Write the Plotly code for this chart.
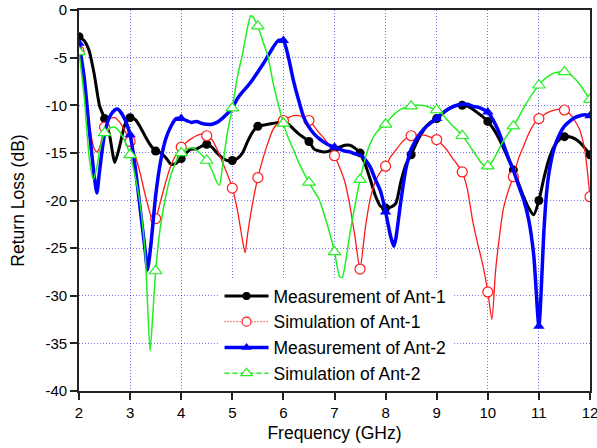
import plotly.graph_objects as go
import numpy as np

# ---------------- data ----------------
# Measurement of Ant-1
meas1_x = [2.0, 2.1, 2.2, 2.3, 2.4, 2.5, 2.6, 2.7, 2.8, 2.9, 3.0, 3.1, 3.2, 3.3, 3.4, 3.5,
           3.6, 3.7, 3.8, 3.9, 4.0, 4.1, 4.2, 4.3, 4.4, 4.5, 4.6, 4.7, 4.8, 4.9, 5.0, 5.1,
           5.2, 5.3, 5.4, 5.5, 5.6, 5.7, 5.8, 5.9, 6.0, 6.1, 6.2, 6.3, 6.4, 6.5, 6.6, 6.7,
           6.8, 6.9, 7.0, 7.1, 7.2, 7.3, 7.4, 7.5, 7.6, 7.7, 7.8, 7.9, 8.0, 8.1, 8.2, 8.3,
           8.4, 8.5, 8.6, 8.7, 8.8, 8.9, 9.0, 9.1, 9.2, 9.3, 9.4, 9.5, 9.6, 9.7, 9.8, 9.9,
           10.0, 10.1, 10.2, 10.3, 10.4, 10.5, 10.6, 10.7, 10.8, 10.9, 11.0, 11.1, 11.2,
           11.3, 11.4, 11.5, 11.6, 11.7, 11.8, 11.9, 12.0]
meas1_y = [-2.8, -3.2, -4.3, -6.8, -10.0, -11.4, -13.2, -16.0, -14.2, -12.0, -11.3, -11.5,
           -12.3, -13.3, -14.2, -14.8, -15.0, -15.5, -16.2, -16.1, -15.6, -15.0, -14.6,
           -14.6, -14.3, -14.1, -14.4, -15.0, -15.5, -15.8, -15.8, -15.6, -15.0, -13.8,
           -12.8, -12.2, -12.1, -12.0, -11.9, -11.8, -11.75, -12.0, -12.5, -13.0, -13.4,
           -13.8, -14.6, -14.8, -14.9, -14.8, -14.6, -14.4, -14.2, -14.2, -14.5, -15.0,
           -16.2, -17.8, -19.5, -20.6, -20.8, -20.7, -20.3, -18.0, -16.2, -15.2, -14.0,
           -13.0, -12.2, -11.7, -11.4, -10.9, -10.5, -10.2, -10.0, -10.0, -10.1, -10.4,
           -10.8, -11.2, -11.7, -12.4, -13.3, -14.4, -15.6, -16.8, -18.2, -19.6, -20.8,
           -21.5, -20.0, -17.6, -15.6, -14.3, -13.6, -13.3, -13.3, -13.5, -13.9, -14.5,
           -15.2]

# Simulation of Ant-1
sim1_x = [2.0, 2.1, 2.2, 2.3, 2.35, 2.4, 2.5, 2.6, 2.7, 2.8, 2.9, 3.0, 3.1, 3.2, 3.3, 3.4,
          3.45, 3.5, 3.6, 3.7, 3.8, 3.9, 4.0, 4.1, 4.2, 4.3, 4.4, 4.5, 4.6, 4.7, 4.8, 4.9,
          5.0, 5.1, 5.2, 5.25, 5.3, 5.4, 5.5, 5.6, 5.7, 5.8, 5.9, 6.0, 6.1, 6.2, 6.3, 6.4,
          6.5, 6.6, 6.7, 6.8, 6.9, 7.0, 7.1, 7.2, 7.3, 7.4, 7.5, 7.6, 7.7, 7.8, 7.9, 8.0,
          8.1, 8.2, 8.3, 8.4, 8.5, 8.6, 8.7, 8.8, 8.9, 9.0, 9.1, 9.2, 9.3, 9.4, 9.5, 9.6,
          9.7, 9.8, 9.9, 10.0, 10.08, 10.15, 10.2, 10.3, 10.4, 10.5, 10.6, 10.7, 10.8, 10.9,
          11.0, 11.1, 11.2, 11.3, 11.4, 11.5, 11.6, 11.7, 11.8, 11.9, 12.0]
sim1_y = [-4.3, -7.5, -12.0, -14.6, -14.9, -14.5, -12.3, -11.4, -11.3, -11.8, -12.7, -13.8,
          -15.3, -17.2, -19.5, -21.5, -22.1, -21.9, -20.0, -18.0, -16.3, -15.2, -14.4,
          -13.9, -13.5, -13.2, -13.0, -13.2, -13.6, -14.6, -15.9, -17.2, -18.7, -21.0,
          -24.2, -25.5, -23.5, -20.2, -17.6, -15.6, -13.9, -12.5, -11.9, -11.6, -11.3,
          -11.1, -11.1, -11.3, -11.6, -12.2, -12.9, -13.5, -14.3, -15.3, -16.5, -18.0,
          -20.5, -23.8, -27.2, -23.0, -19.8, -18.0, -17.0, -16.4, -15.4, -14.7, -14.0,
          -13.5, -13.2, -13.1, -13.1, -13.2, -13.4, -13.6, -14.1, -14.7, -15.5, -16.2,
          -17.0, -18.8, -22.0, -24.5, -26.7, -29.6, -32.5, -27.5, -25.0, -21.0, -19.0,
          -17.5, -15.6, -14.3, -13.0, -12.0, -11.4, -11.0, -10.7, -10.5, -10.4, -10.5,
          -10.9, -11.6, -12.6, -14.8, -19.6]

# Measurement of Ant-2
meas2_x = [2.0, 2.1, 2.2, 2.3, 2.35, 2.4, 2.5, 2.6, 2.7, 2.75, 2.8, 2.9, 3.0, 3.1, 3.2,
           3.3, 3.34, 3.4, 3.5, 3.6, 3.7, 3.8, 3.9, 4.0, 4.1, 4.2, 4.3, 4.4, 4.5, 4.6,
           4.7, 4.8, 4.9, 5.0, 5.1, 5.2, 5.3, 5.4, 5.5, 5.6, 5.7, 5.8, 5.9, 6.0, 6.1,
           6.2, 6.3, 6.4, 6.5, 6.6, 6.7, 6.8, 6.9, 7.0, 7.1, 7.2, 7.3, 7.4, 7.5, 7.6,
           7.7, 7.8, 7.9, 8.0, 8.1, 8.16, 8.2, 8.3, 8.4, 8.5, 8.6, 8.7, 8.8, 8.9, 9.0,
           9.1, 9.2, 9.3, 9.4, 9.5, 9.6, 9.7, 9.8, 9.9, 10.0, 10.1, 10.2, 10.3, 10.4,
           10.5, 10.6, 10.7, 10.8, 10.9, 11.0, 11.1, 11.15, 11.2, 11.3, 11.4, 11.5, 11.6,
           11.7, 11.8, 11.9, 12.0]
meas2_y = [-3.5, -7.0, -12.5, -17.5, -19.2, -17.0, -13.0, -11.2, -10.5, -10.4, -10.6,
           -11.5, -13.1, -16.5, -21.0, -25.5, -27.3, -25.0, -19.5, -15.8, -13.5, -12.2,
           -11.4, -11.4, -11.6, -11.8, -11.7, -11.9, -12.0, -12.0, -11.8, -11.4, -10.9,
           -10.3, -9.3, -8.6, -8.0, -7.3, -6.5, -5.7, -4.8, -3.9, -3.2, -3.2, -5.0, -7.5,
           -9.5, -11.3, -12.3, -13.0, -13.5, -13.9, -14.2, -14.4, -14.6, -14.8, -14.9,
           -15.1, -15.2, -15.7, -16.5, -17.8, -19.0, -21.2, -23.8, -24.8, -24.0, -20.0,
           -16.6, -14.6, -13.6, -12.8, -12.2, -11.8, -11.4, -10.9, -10.5, -10.2, -10.0,
           -9.9, -9.9, -10.1, -10.2, -10.4, -10.7, -11.5, -12.6, -14.0, -15.5, -16.8,
           -18.4, -19.9, -22.0, -25.8, -33.2, -23.0, -19.2, -17.0, -14.5, -13.1, -12.2,
           -11.7, -11.3, -11.1, -11.0, -11.1]

# Simulation of Ant-2
sim2_x = [2.0, 2.1, 2.2, 2.28, 2.35, 2.4, 2.5, 2.6, 2.7, 2.8, 2.9, 3.0, 3.1, 3.2, 3.3,
          3.39, 3.45, 3.5, 3.6, 3.7, 3.8, 3.9, 4.0, 4.1, 4.2, 4.3, 4.4, 4.5, 4.6, 4.7,
          4.75, 4.8, 4.9, 5.0, 5.1, 5.2, 5.3, 5.36, 5.4, 5.5, 5.6, 5.7, 5.8, 5.9, 6.0,
          6.1, 6.2, 6.3, 6.4, 6.5, 6.6, 6.7, 6.8, 6.9, 7.0, 7.1, 7.15, 7.2, 7.3, 7.4,
          7.5, 7.6, 7.7, 7.8, 7.9, 8.0, 8.1, 8.2, 8.3, 8.4, 8.5, 8.6, 8.7, 8.8, 8.9,
          9.0, 9.1, 9.2, 9.3, 9.4, 9.5, 9.6, 9.7, 9.8, 9.9, 10.0, 10.1, 10.2, 10.3,
          10.4, 10.5, 10.6, 10.7, 10.8, 10.9, 11.0, 11.1, 11.2, 11.3, 11.4, 11.5, 11.6,
          11.7, 11.8, 11.9, 12.0]
sim2_y = [-4.4, -9.0, -15.5, -17.8, -16.5, -14.8, -12.9, -12.4, -12.3, -12.8, -13.8,
          -15.2, -17.5, -20.5, -26.0, -35.8, -31.5, -27.4, -22.5, -19.5, -17.3, -15.9,
          -15.0, -14.6, -14.5, -14.7, -15.2, -15.8, -16.8, -18.1, -18.4, -16.8, -13.0,
          -10.3, -7.0, -4.6, -1.8, -0.6, -0.7, -1.7, -3.3, -4.9, -7.7, -9.9, -11.9,
          -13.5, -14.7, -16.0, -17.1, -18.1, -19.0, -19.9, -21.5, -23.3, -25.4, -28.0,
          -28.1, -27.0, -23.5, -20.5, -17.8, -15.6, -14.0, -13.0, -12.4, -12.0, -11.3,
          -10.8, -10.4, -10.2, -10.1, -10.0, -10.0, -10.1, -10.3, -10.5, -10.9, -11.5,
          -12.1, -12.6, -13.2, -13.9, -14.7, -15.5, -16.2, -16.4, -15.8, -14.8, -13.8,
          -13.0, -12.2, -11.3, -10.3, -9.4, -8.6, -7.9, -7.3, -6.9, -6.6, -6.5, -6.5,
          -6.7, -7.2, -7.8, -8.6, -9.4]

series_names = ["Measurement of Ant-1", "Simulation of Ant-1",
                "Measurement of Ant-2", "Simulation of Ant-2"]
x_ticks = [2, 3, 4, 5, 6, 7, 8, 9, 10, 11, 12]
y_ticks = [-40, -35, -30, -25, -20, -15, -10, -5, 0]

FONT = "Liberation Sans, Arial, sans-serif"

def marker_subset(xs, ys, step):
    xs = np.asarray(xs, float)
    ys = np.asarray(ys, float)
    k = xs / step
    sel = np.isclose(k, np.round(k))
    return xs[sel], ys[sel]

styles = [
    dict(x=meas1_x, y=meas1_y, step=0.5, color="black", width=3, dash="solid", ldash="solid",
         symbol="circle", msize=9, mfill="black", mlw=0, lsize=8),
    dict(x=sim1_x, y=sim1_y, step=0.5, color="#ff1a1a", width=1.3, dash="solid", ldash="1px,2px",
         symbol="circle", msize=10, mfill="white", mlw=1.2, lsize=9),
    dict(x=meas2_x, y=meas2_y, step=1.0, color="#0000ff", width=3.5, dash="solid", ldash="solid",
         symbol="triangle-up", msize=10, mfill="#0000ff", mlw=0, lsize=9),
    dict(x=sim2_x, y=sim2_y, step=0.5, color="#22ee22", width=1.5, dash="solid", ldash="5px,3px",
         symbol="triangle-up", msize=11, mfill="white", mlw=1.2, lsize=10),
]

fig = go.Figure()

for i, (name, s) in enumerate(zip(series_names, styles)):
    fig.add_trace(go.Scatter(
        x=s["x"], y=s["y"], mode="lines", showlegend=False, legendgroup=name,
        line=dict(color=s["color"], width=s["width"], dash=s["dash"], shape="spline", smoothing=0.6),
        hoverinfo="skip"))
    mx, my = marker_subset(s["x"], s["y"], s["step"])
    mk = dict(symbol=s["symbol"], size=s["msize"], color=s["mfill"])
    if s["mlw"]:
        mk["line"] = dict(color=s["color"], width=s["mlw"])
    fig.add_trace(go.Scatter(x=mx, y=my, mode="markers", showlegend=False,
                             legendgroup=name, marker=mk))

# legend entries
for name, s in zip(series_names, styles):
    mk = dict(symbol=s["symbol"], size=s["lsize"], color=s["mfill"])
    if s["mlw"]:
        mk["line"] = dict(color=s["color"], width=s["mlw"])
    fig.add_trace(go.Scatter(x=[None], y=[None], mode="lines+markers", name=name,
                             legendgroup=name,
                             line=dict(color=s["color"], width=s["width"], dash=s["ldash"]),
                             marker=mk))

grid_col = "rgba(80,80,255,0.8)"
axis_common = dict(showline=True, linecolor="#222", linewidth=1.6, mirror=True,
                   ticks="outside", ticklen=7, tickwidth=1.5, tickcolor="#222",
                   showgrid=True, gridcolor=grid_col, griddash="1px,2px", gridwidth=1,
                   zeroline=False, automargin=False, ticklabeloverflow="allow",
                   tickfont=dict(family=FONT, size=15, color="black"))

fig.update_xaxes(range=[2, 12], tickvals=x_ticks, ticktext=[str(v) for v in x_ticks],
                 title=dict(text="Frequency (GHz)", font=dict(family=FONT, size=17.5, color="black"),
                            standoff=7),
                 **axis_common)
fig.update_yaxes(range=[-40, 0], tickvals=y_ticks, ticktext=[str(v) for v in y_ticks],
                 title=dict(text="Return Loss (dB)", font=dict(family=FONT, size=17.5, color="black"),
                            standoff=16),
                 **axis_common)

fig.update_layout(
    width=597, height=448,
    margin=dict(l=79, r=7, t=10, b=57),
    paper_bgcolor="white", plot_bgcolor="white",
    font=dict(family=FONT, color="black"),
    legend=dict(x=0.275, y=0.0, xanchor="left", yanchor="bottom",
                bgcolor="white", borderwidth=0, itemwidth=44,
                font=dict(family=FONT, size=17.5, color="black"),
                tracegroupgap=0, traceorder="normal"),
)

fig.write_html("out.html")
